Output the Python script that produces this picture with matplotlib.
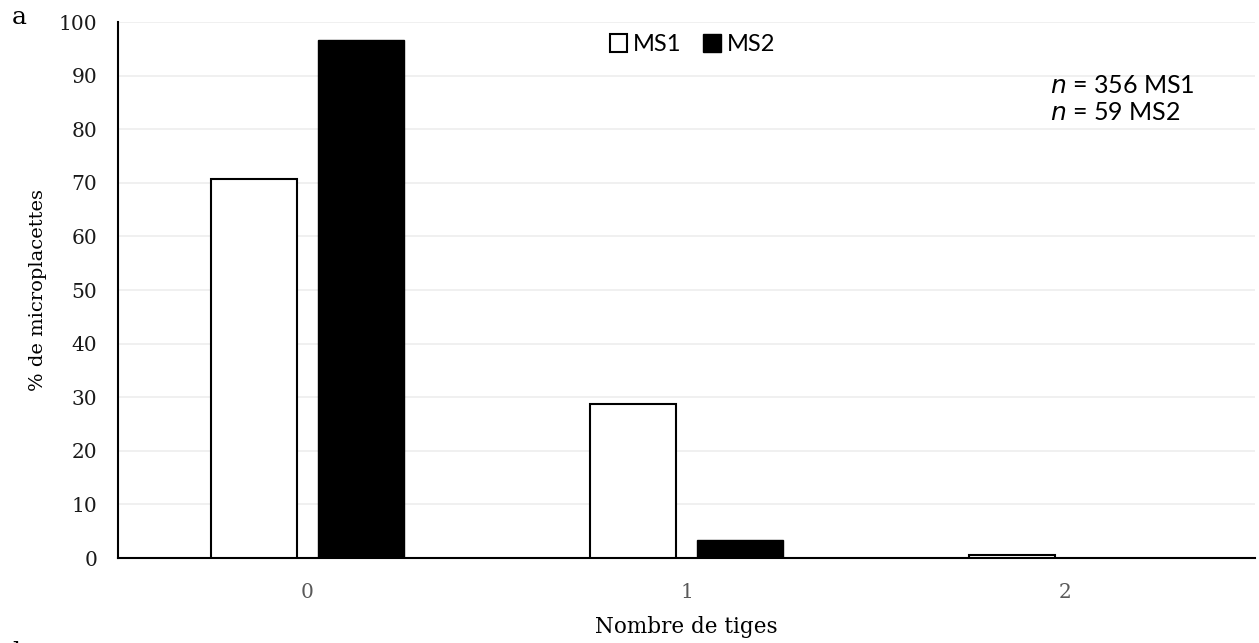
import numpy as np
import matplotlib.pyplot as plt

# data
categories = ["0", "1", "2"]
ms1_values = [70.8, 28.7, 0.56]
ms2_values = [96.6, 3.4, 0.0]
series_names = ["MS1", "MS2"]
y_ticks = list(range(0, 101, 10))

serif = ["DejaVu Serif"]
sans = ["Lato", "DejaVu Sans"]

fig = plt.figure(figsize=(12.59, 6.43), dpi=100)
ax = fig.add_axes([118 / 1259, 1 - 558 / 643, 1137 / 1259, 536 / 643])

x = np.arange(len(categories))
w = 0.227
off = 0.142
ax.bar(x - off, ms1_values, w, color="white", edgecolor="black", linewidth=1.5,
       label=series_names[0], zorder=3)
ax.bar(x + off, ms2_values, w, color="black", edgecolor="black", linewidth=1.0,
       label=series_names[1], zorder=3)

ax.set_xlim(-0.5, len(categories) - 0.5)
ax.set_ylim(0, 100)
ax.set_yticks(y_ticks)
ax.set_xticks(x)
ax.set_xticklabels(categories)
ax.yaxis.grid(True, color="#EDEDED", linewidth=1.2, zorder=0)
ax.set_axisbelow(True)

for s in ["top", "right"]:
    ax.spines[s].set_visible(False)
ax.spines["left"].set_linewidth(1.5)
ax.spines["bottom"].set_linewidth(1.5)
ax.tick_params(axis="both", length=0)
ax.tick_params(axis="y", pad=15, labelsize=14.5, labelcolor="#1a1a1a")
ax.tick_params(axis="x", pad=18, labelsize=14.5, labelcolor="#595959")
for lab in ax.get_xticklabels() + ax.get_yticklabels():
    lab.set_family(serif)

ax.set_ylabel("% de microplacettes", fontsize=14, family=serif, labelpad=8)
ax.set_xlabel("Nombre de tiges", fontsize=15.5, family=serif, labelpad=10)

leg = ax.legend(loc="upper center", bbox_to_anchor=(0.505, 1.017), ncol=2, frameon=False,
                prop={"family": sans, "size": 17}, handlelength=0.75, handleheight=0.75,
                handletextpad=0.25, columnspacing=0.9)

ax.text(0.820, 0.882, r"$\it{n}$ = 356 MS1", transform=ax.transAxes, fontsize=18,
        family=sans, va="center")
ax.text(0.820, 0.832, r"$\it{n}$ = 59 MS2", transform=ax.transAxes, fontsize=18,
        family=sans, va="center")

fig.text(12 / 1259, 1 - 18 / 643, "a", fontsize=18, family=serif, va="center")
# panel letter of the next figure, cut by the bottom edge as in the source
fig.text(12 / 1259, -0.014, "b", fontsize=18, family=serif, va="center")

fig.savefig("out.png", dpi=100)
